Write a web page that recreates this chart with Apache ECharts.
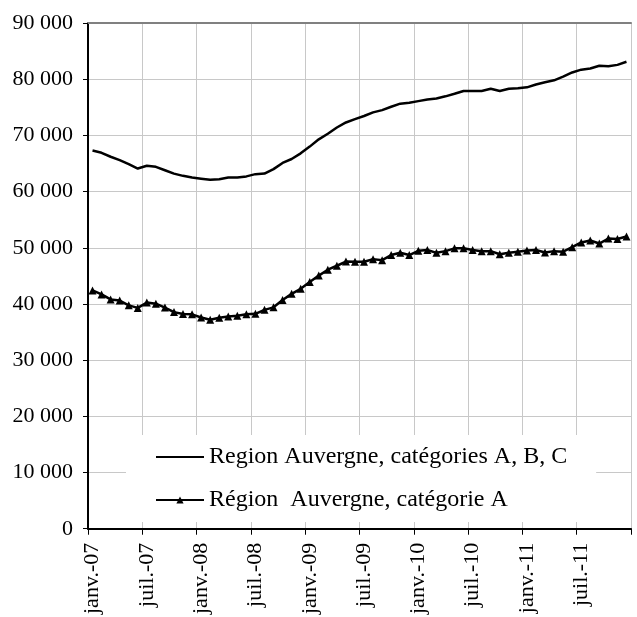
<!DOCTYPE html>
<html>
<head>
<meta charset="UTF-8">
<script src="https://cdn.jsdelivr.net/npm/echarts@6/dist/echarts.min.js"></script>
<style>
  html, body { margin: 0; padding: 0; background: #ffffff; }
  #paint { width: 637px; height: 617px; }
</style>
</head>
<body>
<div id="paint"></div>
<script>
// mois de janv.-07 à déc.-11
var moisNoms = ['janv.', 'févr.', 'mars', 'avr.', 'mai', 'juin', 'juil.', 'août', 'sept.', 'oct.', 'nov.', 'déc.'];
var annees = ['07', '08', '09', '10', '11'];
var categories = [];
annees.forEach(function (a) {
    moisNoms.forEach(function (m) { categories.push(m + '-' + a); });
});

var serieABC = [
    67300, 66900, 66200, 65600, 64900, 64100, 64600, 64400, 63800, 63200, 62800, 62500,
    62300, 62100, 62200, 62500, 62500, 62700, 63100, 63200, 64000, 65100, 65800, 66800,
    68000, 69300, 70300, 71400, 72300, 72900, 73450, 74100, 74500, 75100, 75650, 75800,
    76100, 76400, 76550, 76950, 77400, 77900, 77900, 77900, 78300, 77900, 78300, 78400,
    78550, 79050, 79450, 79800, 80450, 81200, 81700, 81900, 82400, 82300, 82550, 83100
];
var serieA = [
    42400, 41700, 40800, 40600, 39750, 39300, 40250, 40050, 39350, 38550, 38200, 38150,
    37600, 37200, 37550, 37750, 37900, 38150, 38250, 38950, 39400, 40700, 41800, 42700,
    43900, 45050, 46100, 46800, 47550, 47500, 47500, 47950, 47800, 48700, 49100, 48700,
    49450, 49600, 49100, 49400, 49900, 49900, 49600, 49400, 49400, 48850, 49100, 49300,
    49500, 49600, 49150, 49400, 49300, 50100, 50950, 51300, 50750, 51650, 51550, 52000
];
var nomABC = 'Region Auvergne, catégories A, B, C';
var nomA = 'Région  Auvergne, catégorie A';

var police = "'Liberation Serif', 'Times New Roman', serif";

echarts.init(document.getElementById('paint')).setOption({
    backgroundColor: '#ffffff',
    animation: false,
    grid: {
        left: 88,
        right: 6,
        top: 23,
        bottom: 87
    },
    legend: {
        data: [
            { name: nomABC, itemStyle: { opacity: 0 } },
            { name: nomA }
        ],
        orient: 'vertical',
        left: 126,
        top: 435,
        padding: [10, 29, 10, 29],
        itemGap: 19,
        itemWidth: 48,
        itemHeight: 9,
        backgroundColor: '#ffffff',
        textStyle: { fontFamily: police, fontSize: 24, color: '#000000', lineHeight: 24 }
    },
    xAxis: [
        {
            type: 'category',
            data: categories,
            boundaryGap: true,
            axisLine: { lineStyle: { color: '#000000', width: 2 } },
            axisTick: { show: true, interval: 5, length: 6, lineStyle: { color: '#000000', width: 1 } },
            axisLabel: {
                interval: 5,
                rotate: 90,
                margin: 14,
                fontFamily: police,
                fontSize: 22,
                color: '#000000'
            },
            splitLine: { show: true, interval: 5, lineStyle: { color: '#c8c8c8', width: 1 } }
        },
        {
            type: 'category',
            data: categories,
            position: 'top',
            axisLine: { lineStyle: { color: '#808080', width: 2 } },
            axisTick: { show: false },
            axisLabel: { show: false },
            splitLine: { show: false }
        }
    ],
    yAxis: {
        type: 'value',
        min: 0,
        max: 90000,
        interval: 10000,
        axisLine: { show: true, lineStyle: { color: '#000000', width: 2 } },
        axisTick: { show: true, length: 5, lineStyle: { color: '#000000', width: 1 } },
        axisLabel: {
            margin: 15,
            fontFamily: police,
            fontSize: 22,
            color: '#000000',
            formatter: function (v) {
                return String(v).replace(/\B(?=(\d{3})+(?!\d))/g, ' ');
            }
        },
        splitLine: { show: true, lineStyle: { color: '#c8c8c8', width: 1 } }
    },
    series: [
        {
            name: nomABC,
            type: 'line',
            data: serieABC,
            symbol: 'none',
            lineStyle: { color: '#000000', width: 2.5 },
            itemStyle: { color: '#000000' }
        },
        {
            name: nomA,
            type: 'line',
            data: serieA,
            symbol: 'triangle',
            symbolSize: 8,
            showAllSymbol: true,
            lineStyle: { color: '#000000', width: 2.5 },
            itemStyle: { color: '#000000' }
        }
    ]
});
</script>
</body>
</html>
